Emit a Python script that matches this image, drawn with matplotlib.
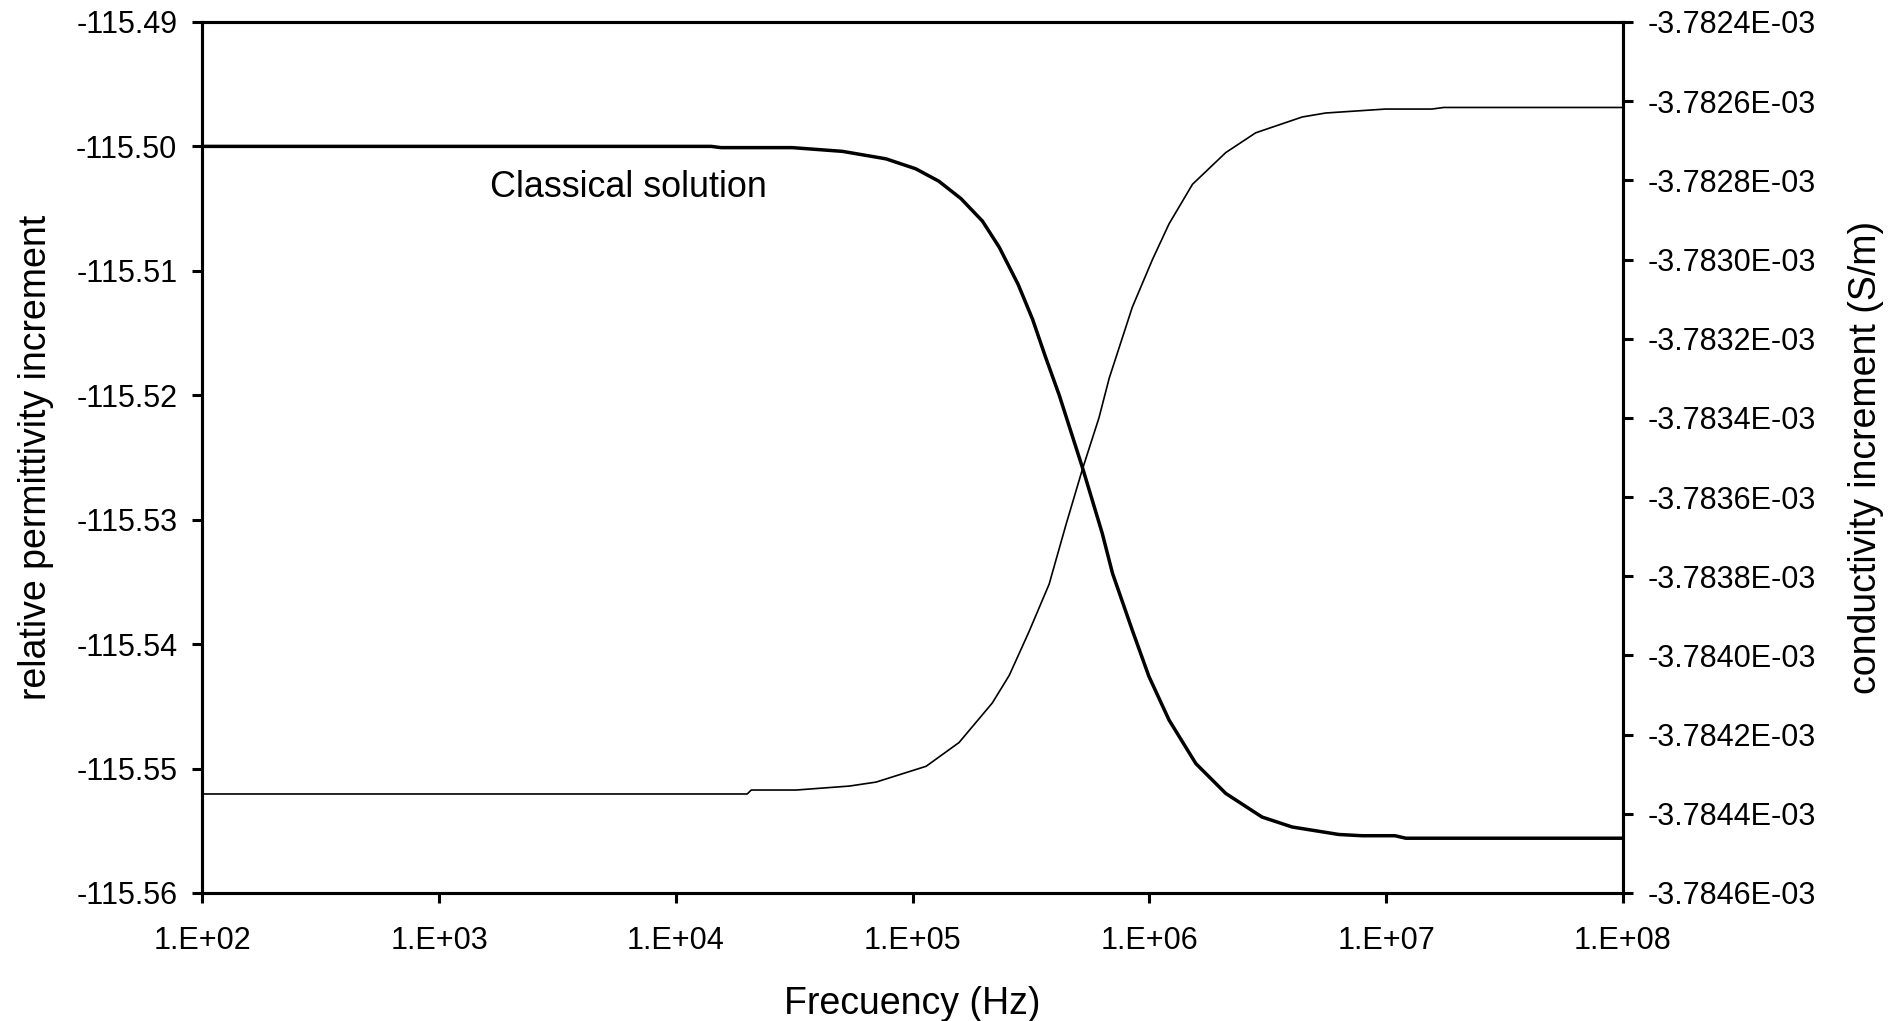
import numpy as np
import matplotlib.pyplot as plt
from matplotlib.ticker import FixedLocator, FuncFormatter, NullLocator

plt.rcParams['font.family'] = ['Liberation Sans', 'DejaVu Sans']

# relative permittivity increment (left axis)
freq_perm = [1.0e2, 1.41e4, 1.55e4, 3.10e4, 5.05e4, 7.71e4, 1.03e5, 1.29e5,
             1.60e5, 1.97e5, 2.32e5, 2.79e5, 3.21e5, 3.62e5, 4.16e5, 5.21e5,
             6.32e5, 6.98e5, 8.47e5, 9.95e5, 1.21e6, 1.57e6, 2.10e6, 2.99e6,
             4.01e6, 6.31e6, 7.91e6, 1.09e7, 1.21e7, 1.0e8]
perm = [-115.5000, -115.5000, -115.5001, -115.5001, -115.5004, -115.5010,
        -115.5018, -115.5028, -115.5042, -115.5060, -115.5081, -115.5111,
        -115.5139, -115.5168, -115.5200, -115.5258, -115.5311, -115.5343,
        -115.5389, -115.5426, -115.5461, -115.5496, -115.5520, -115.5539,
        -115.5547, -115.5553, -115.5554, -115.5554, -115.5556, -115.5556]

# conductivity increment in S/m (right axis)
freq_cond = [1.0e2, 2.00e4, 2.08e4, 3.22e4, 5.40e4, 7.00e4, 1.14e5, 1.57e5,
             2.17e5, 2.56e5, 3.10e5, 3.77e5, 4.44e5, 5.21e5, 6.12e5, 6.76e5,
             8.47e5, 1.03e6, 1.21e6, 1.52e6, 2.10e6, 2.81e6, 4.42e6, 5.55e6,
             9.93e6, 1.56e7, 1.75e7, 1.0e8]
cond = [-3.78435e-3, -3.78435e-3, -3.78434e-3, -3.78434e-3, -3.78433e-3,
        -3.78432e-3, -3.78428e-3, -3.78422e-3, -3.78412e-3, -3.78405e-3,
        -3.78394e-3, -3.78382e-3, -3.78367e-3, -3.78353e-3, -3.78340e-3,
        -3.78330e-3, -3.78312e-3, -3.78300e-3, -3.78291e-3, -3.78281e-3,
        -3.78273e-3, -3.78268e-3, -3.78264e-3, -3.78263e-3, -3.78262e-3,
        -3.78262e-3, -3.782616e-3, -3.782616e-3]

x_ticks = [1e2, 1e3, 1e4, 1e5, 1e6, 1e7, 1e8]
perm_ticks = [-115.56, -115.55, -115.54, -115.53, -115.52, -115.51, -115.50, -115.49]
cond_ticks = [-3.7846e-3, -3.7844e-3, -3.7842e-3, -3.7840e-3, -3.7838e-3, -3.7836e-3,
              -3.7834e-3, -3.7832e-3, -3.7830e-3, -3.7828e-3, -3.7826e-3, -3.7824e-3]

fig = plt.figure(figsize=(19.02, 10.21), dpi=100)
ax = fig.add_axes([0.1064, 0.1254, 0.7469, 0.8531])
ax2 = ax.twinx()

ax.plot(freq_perm, perm, color='black', linewidth=2.5, solid_joinstyle='round')
ax2.plot(freq_cond, cond, color='black', linewidth=1.2, solid_joinstyle='round')

ax.set_xscale('log')
ax.set_xlim(1e2, 1e8)
ax.set_ylim(-115.56, -115.49)
ax2.set_ylim(-3.7846e-3, -3.7824e-3)

ax.xaxis.set_major_locator(FixedLocator(x_ticks))
ax.xaxis.set_minor_locator(NullLocator())
ax.xaxis.set_major_formatter(FuncFormatter(lambda v, p: '{:#.0E}'.format(v)))
ax.yaxis.set_major_locator(FixedLocator(perm_ticks))
ax.yaxis.set_major_formatter(FuncFormatter(lambda v, p: '{:.2f}'.format(v)))
ax2.yaxis.set_major_locator(FixedLocator(cond_ticks))
ax2.yaxis.set_major_formatter(FuncFormatter(lambda v, p: '{:.4E}'.format(v)))

for a in (ax, ax2):
    for sp in a.spines.values():
        sp.set_linewidth(2.2)
    a.tick_params(axis='both', which='major', direction='out', length=7,
                  width=2.2, labelsize=22, pad=11)
ax.tick_params(axis='x', pad=16.5)

ax.set_xlabel('Frecuency (Hz)', fontsize=27, labelpad=22)
ax.set_ylabel('relative permittivity increment', fontsize=27, labelpad=16)
ax2.set_ylabel('conductivity increment (S/m)', fontsize=27, labelpad=23)

ax.text(1.635e3, -115.50405, 'Classical solution', fontsize=25.8,
        ha='left', va='baseline')

fig.savefig('out.png', dpi=100)
